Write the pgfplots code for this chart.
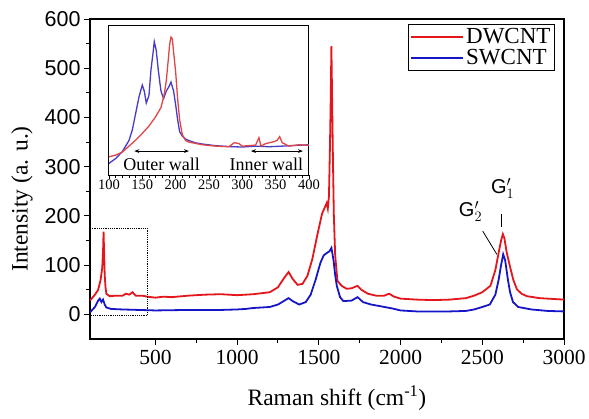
\documentclass[border=0pt]{standalone}
\usepackage{fontspec}
\setmainfont{Liberation Serif}
\setsansfont{Liberation Sans}
\usepackage{pgfplots}
\pgfplotsset{compat=1.18}
\usetikzlibrary{arrows.meta}
\definecolor{dwred}{RGB}{228,22,28}
\definecolor{swblue}{RGB}{22,22,200}
\definecolor{inred}{RGB}{225,70,70}
\definecolor{inblue}{RGB}{70,60,200}

\begin{document}
\begin{tikzpicture}
\begin{axis}[name=main,
  width=474pt, height=320pt, scale only axis,
  xmin=100, xmax=3000, ymin=-50, ymax=600,
  xtick={500,1000,...,3000}, ytick={0,100,...,600},
  minor x tick num=1, minor y tick num=1,
  tick align=outside, xtick pos=left, ytick pos=left,
  major tick length=6pt, minor tick length=4pt,
  axis line style={line width=1.1pt}, tick style={black, line width=1pt},
  /pgf/number format/assume math mode=true,
  /pgf/number format/1000 sep={},
  xticklabel style={font=\fontsize{21.5}{21.5}\selectfont, yshift=-2pt},
  yticklabel style={font=\sffamily\fontsize{21.5}{21.5}\selectfont},
  label style={font=\fontsize{23.5}{23.5}\selectfont},
  xlabel={Raman shift (cm\textsuperscript{-1})},
  ylabel={Intensity (a. u.)},
  xlabel style={at={(axis description cs:0.521,-0.184)}, anchor=center},
  ylabel style={at={(axis description cs:-0.1435,0.4375)}, anchor=center},
  legend style={at={(0.981,0.984)}, anchor=north east, draw=black, line width=1pt,
    font=\fontsize{23}{25}\selectfont, inner sep=2pt},
  legend cell align=left,
  legend image code/.code={\draw[#1, line width=2pt] (0pt,0pt) -- (52pt,0pt);},
]
\addplot[dwred, line width=1.8pt] coordinates {
(100,28) (130,40) (150,50) (165,70) (175,95) (180,130) (183,168) (186,130)
(190,80) (195,55) (200,42) (220,37) (260,38) (300,38) (320,42) (340,40) (360,45)
(380,38) (420,38) (450,36) (500,34) (550,36) (600,35) (700,38) (800,40) (900,41)
(1000,39) (1100,41) (1200,45) (1250,55) (1290,75) (1315,86) (1340,72) (1370,60)
(1400,62) (1430,78) (1460,112) (1490,160) (1520,205) (1540,220) (1548,226) (1555,215)
(1562,240) (1568,340) (1572,420) (1577,545) (1582,420) (1587,300) (1592,200) (1600,120)
(1614,68) (1640,58) (1670,52) (1700,53) (1737,58) (1760,50) (1800,42) (1850,38)
(1900,38) (1930,42) (1960,36) (2000,32) (2100,30) (2200,29) (2300,30) (2400,33)
(2450,38) (2500,45) (2550,58) (2580,90) (2600,125) (2615,150) (2626,163) (2635,155)
(2650,125) (2669,98) (2690,70) (2712,51) (2740,42) (2773,37) (2850,33) (2950,31) (3000,30)
};
\addlegendentry{DWCNT}
\addplot[swblue, line width=1.8pt] coordinates {
(100,4) (130,15) (150,28) (160,32) (170,25) (180,30) (190,20) (200,14)
(230,11) (300,10) (400,9) (500,8) (700,9) (900,9) (1000,10) (1050,11) (1100,13)
(1200,15) (1250,20) (1290,28) (1315,33) (1340,27) (1380,20) (1420,25) (1450,40)
(1480,70) (1510,105) (1530,120) (1550,125) (1565,128) (1577,135) (1590,110) (1600,80)
(1610,58) (1630,35) (1650,27) (1700,28) (1737,35) (1770,25) (1820,20) (1870,17)
(1950,12) (2000,8) (2100,6) (2200,6) (2300,6) (2400,7) (2450,10) (2500,15) (2546,20)
(2580,40) (2600,70) (2615,100) (2628,122) (2640,110) (2657,70) (2670,45) (2688,25)
(2720,15) (2800,10) (2900,7) (3000,6)
};
\addlegendentry{SWCNT}
\draw[black, densely dotted, line width=1.2pt] (axis cs:100,175) -- (axis cs:450,175) -- (axis cs:450,-3) -- (axis cs:100,-3);
\draw[black, line width=0.8pt] (axis cs:2620,203) -- (axis cs:2620,177);
\draw[black, line width=0.8pt] (axis cs:2503,169) -- (axis cs:2589,122);
\node[font=\sffamily\fontsize{20}{20}\selectfont] at (axis cs:2625,256) {G$^{\prime}_{1}$};
\node[font=\sffamily\fontsize{20}{20}\selectfont] at (axis cs:2428,209) {G$^{\prime}_{2}$};
\coordinate (insetpos) at (rel axis cs:0.040,0.981);
\end{axis}

\begin{axis}[at={(insetpos)}, anchor=north west,
  width=200pt, height=150pt, scale only axis,
  xmin=100, xmax=400, ymin=0, ymax=100,
  xtick={100,150,...,400}, ytick=\empty, minor x tick num=4,
  tick align=outside, xtick pos=left,
  major tick length=4pt, minor tick length=3pt,
  axis line style={line width=1pt}, tick style={black, line width=0.8pt},
  axis background/.style={fill=white},
  /pgf/number format/assume math mode=true,
  xticklabel style={font=\fontsize{14.5}{14.5}\selectfont, inner sep=1pt},
]
\addplot[inblue, line width=1.3pt] coordinates {
(100,7.8) (110,11) (120,15.6) (130,23) (135,30) (140,41) (145,52) (150,60) (153,56)
(156,48) (160,53) (163,70) (166,81) (168,89) (171,83) (174,70) (178,56) (182,51)
(186,56) (190,59) (193,62) (197,56) (200,47) (203,37) (206,29) (210,26) (215,24)
(220,23) (230,21.5) (240,20.7) (260,19.6) (280,19) (300,18.7) (320,19.3) (340,18.9)
(360,19.3) (380,19.8) (400,20.2)
};
\addplot[inred, line width=1.3pt] coordinates {
(100,12.2) (110,13.3) (120,15.3) (130,19.3) (140,23.3) (150,27.8) (160,32.7) (170,38.9)
(178,45) (183,54) (186,63) (189,77) (191,87) (193,92) (195,91) (197,82) (200,69)
(203,51) (206,37) (210,27) (215,23) (220,22) (240,20.2) (260,19.3) (280,18.9)
(288,21.6) (295,21) (300,19.3) (320,20) (325,25) (328,19.3) (335,21) (345,22)
(352,23) (356,25.6) (360,21.6) (370,19.3) (385,20.2) (400,19.8)
};
\draw[{Stealth[length=5pt]}-{Stealth[length=5pt]}, line width=0.9pt] (axis cs:138,16) -- (axis cs:220,16);
\draw[{Stealth[length=5pt]}-{Stealth[length=5pt]}, line width=0.9pt] (axis cs:313,16) -- (axis cs:391,16);
\node[font=\fontsize{18}{18}\selectfont] at (axis cs:179,7) {Outer wall};
\node[font=\fontsize{18}{18}\selectfont] at (axis cs:336,7) {Inner wall};
\end{axis}
\pgfresetboundingbox
\path[use as bounding box] ([shift={(-90pt,-80pt)}]main.south west) rectangle ([shift={(499pt,339pt)}]main.south west);
\end{tikzpicture}
\end{document}
